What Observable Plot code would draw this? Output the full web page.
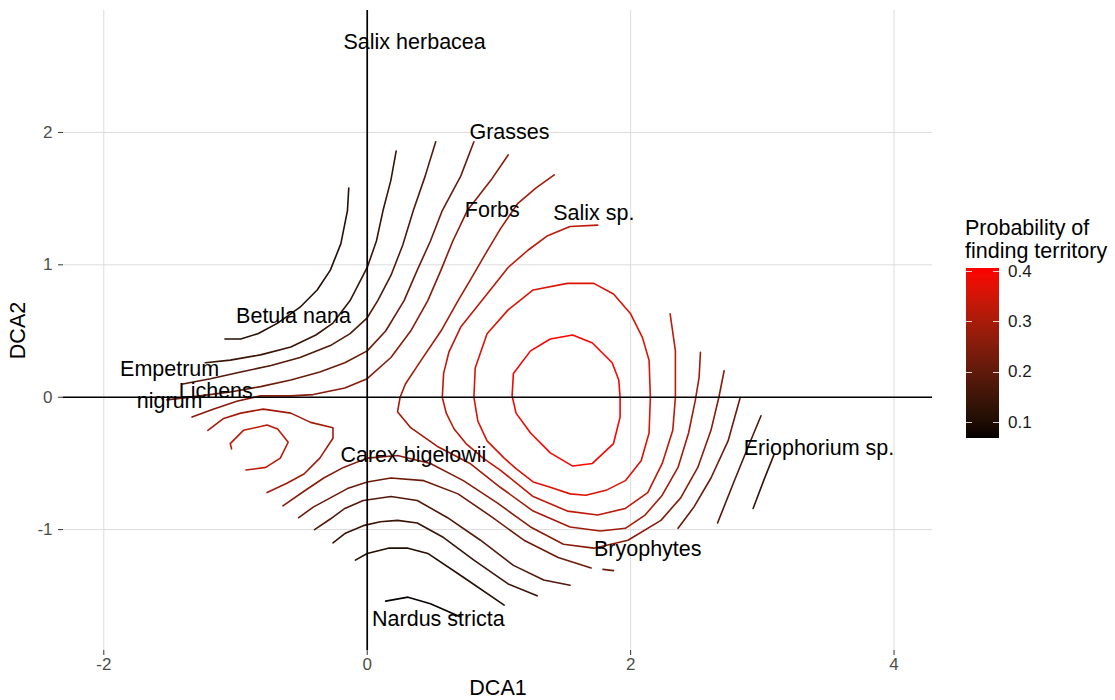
<!DOCTYPE html>
<html>
<head>
<meta charset="utf-8">
<script src="https://cdn.jsdelivr.net/npm/d3@7"></script>
<script src="https://cdn.jsdelivr.net/npm/@observablehq/plot@0.6"></script>
<style>
  body { margin: 0; background: #fff; font-family: "Liberation Sans", Arial, sans-serif; }
  #wrap { position: relative; width: 1115px; height: 700px; }
  .lg-title { position: absolute; left: 965px; top: 217px; font-size: 21.5px; line-height: 23px; color: #000; white-space: nowrap; }
  .lg-bar { position: absolute; left: 966px; top: 268px; width: 33px; height: 170px; }
  .lg-tick { position: absolute; height: 1px; width: 6px; background: #fff; }
  .lg-lab { position: absolute; left: 1008px; font-size: 17px; line-height: 16px; color: #1a1a1a; }
</style>
</head>
<body>
<div id="wrap"></div>
<script>
// Contour levels of the fitted surface (probability of finding territory)
const levels = [0.075, 0.111, 0.147, 0.183, 0.219, 0.256, 0.292, 0.328, 0.364, 0.400];

// Contour pieces, in DCA1/DCA2 units
const nardusArc = [[0.14,-1.54],[0.31,-1.51],[0.48,-1.56],[0.71,-1.66]];
const betulaArc = [[-0.14,1.58],[-0.15,1.41],[-0.20,1.16],[-0.28,0.96],[-0.38,0.81],[-0.51,0.68],[-0.68,0.56],[-0.83,0.48],[-0.96,0.44],[-1.08,0.44]];
const southArc1 = [[-0.09,-1.23],[0.00,-1.18],[0.16,-1.14],[0.31,-1.14],[0.46,-1.18],[0.73,-1.36],[1.04,-1.57]];
const northArc2 = [[0.22,1.86],[0.18,1.64],[0.12,1.41],[0.07,1.18],[0.00,0.98],[-0.13,0.73],[-0.26,0.56],[-0.39,0.47],[-0.58,0.38],[-0.81,0.32],[-1.04,0.28],[-1.23,0.26]];
const southArc2 = [[-0.26,-1.10],[-0.17,-1.03],[-0.03,-0.97],[0.10,-0.94],[0.23,-0.93],[0.38,-0.95],[0.58,-1.06],[0.81,-1.23],[1.07,-1.41],[1.29,-1.50]];
const eastArc2 = [[3.09,-0.43],[3.01,-0.63],[2.93,-0.84]];
const northArc3 = [[0.52,1.93],[0.44,1.67],[0.35,1.41],[0.27,1.15],[0.18,0.92],[0.08,0.73],[0.00,0.60],[-0.13,0.48],[-0.28,0.39],[-0.51,0.30],[-0.73,0.24],[-0.96,0.19],[-1.19,0.14],[-1.40,0.10]];
const southArc3 = [[-0.40,-1.00],[-0.28,-0.92],[-0.17,-0.84],[-0.03,-0.78],[0.18,-0.75],[0.38,-0.78],[0.61,-0.91],[0.86,-1.08],[1.11,-1.27],[1.34,-1.38],[1.54,-1.42]];
const eastArc3 = [[2.99,-0.14],[2.89,-0.38],[2.78,-0.65],[2.66,-0.95]];
const northArc4 = [[0.81,1.93],[0.71,1.67],[0.57,1.41],[0.48,1.18],[0.38,0.96],[0.28,0.73],[0.14,0.50],[0.00,0.35],[-0.17,0.26],[-0.36,0.19],[-0.58,0.13],[-0.81,0.08],[-1.04,0.04],[-1.27,0.01],[-1.52,-0.02]];
const southArc4 = [[-0.52,-0.91],[-0.41,-0.83],[-0.28,-0.76],[-0.15,-0.69],[0.00,-0.64],[0.18,-0.61],[0.43,-0.63],[0.69,-0.73],[0.94,-0.90],[1.19,-1.08],[1.45,-1.21],[1.70,-1.29]];
const southDash4 = [[1.79,-1.30],[1.87,-1.31]];
const eastArc4 = [[2.83,-0.01],[2.74,-0.33],[2.61,-0.61],[2.48,-0.83],[2.36,-0.99]];
const northArc5 = [[1.07,1.83],[0.94,1.64],[0.76,1.41],[0.65,1.18],[0.56,0.96],[0.46,0.73],[0.33,0.50],[0.18,0.30],[0.00,0.14],[-0.17,0.07],[-0.41,0.02],[-0.58,0.01],[-0.81,0.01],[-0.99,-0.03],[-1.17,-0.09],[-1.33,-0.15]];
const southArc5 = [[-0.64,-0.82],[-0.48,-0.71],[-0.33,-0.61],[-0.18,-0.53],[0.00,-0.46],[0.23,-0.44],[0.48,-0.50],[0.73,-0.63],[0.99,-0.80],[1.24,-0.98],[1.49,-1.11],[1.72,-1.14],[1.98,-1.08],[2.23,-0.93],[2.38,-0.76],[2.51,-0.53],[2.61,-0.25],[2.67,0.00],[2.71,0.20]];
const bendArc6 = [[1.42,1.68],[1.28,1.58],[1.14,1.46],[1.01,1.27],[0.89,1.07],[0.78,0.88],[0.69,0.73],[0.56,0.50],[0.41,0.28],[0.29,0.10],[0.25,0.00],[0.23,-0.11],[0.33,-0.23],[0.53,-0.37],[0.78,-0.50],[1.01,-0.68],[1.26,-0.86],[1.54,-0.98],[1.77,-1.01],[1.96,-0.99],[2.11,-0.89],[2.24,-0.74],[2.36,-0.53],[2.44,-0.27],[2.49,-0.03],[2.52,0.15],[2.53,0.34]];
const pocketOuter6 = [[-1.21,-0.25],[-1.09,-0.16],[-0.96,-0.12],[-0.79,-0.09],[-0.58,-0.12],[-0.43,-0.19],[-0.26,-0.23],[-0.26,-0.31],[-0.36,-0.46],[-0.48,-0.58],[-0.61,-0.65],[-0.76,-0.72]];
const wrapArc7 = [[1.75,1.30],[1.54,1.29],[1.37,1.22],[1.22,1.11],[1.07,0.98],[0.91,0.78],[0.71,0.53],[0.62,0.34],[0.58,0.18],[0.57,0.00],[0.60,-0.12],[0.66,-0.24],[0.75,-0.35],[0.88,-0.46],[1.01,-0.55],[1.26,-0.75],[1.52,-0.86],[1.75,-0.89],[1.96,-0.84],[2.13,-0.72],[2.24,-0.50],[2.32,-0.25],[2.34,0.00],[2.34,0.35],[2.30,0.63]];
const pocketInner7 = [[-1.03,-0.39],[-1.04,-0.35],[-0.94,-0.25],[-0.76,-0.21],[-0.68,-0.24],[-0.60,-0.34],[-0.66,-0.46],[-0.77,-0.53],[-0.92,-0.55]];
const ring8 = [[0.81,0.00],[0.82,0.22],[0.91,0.48],[1.07,0.66],[1.26,0.81],[1.52,0.86],[1.72,0.86],[1.87,0.78],[2.00,0.63],[2.09,0.45],[2.14,0.28],[2.15,0.00],[2.14,-0.27],[2.08,-0.48],[1.96,-0.63],[1.82,-0.70],[1.66,-0.74],[1.54,-0.73],[1.39,-0.68],[1.26,-0.64],[1.13,-0.54],[1.04,-0.46],[0.91,-0.33],[0.84,-0.18],[0.81,0.00]];
const ring9 = [[1.10,0.01],[1.11,0.18],[1.24,0.35],[1.39,0.44],[1.56,0.47],[1.71,0.41],[1.86,0.26],[1.91,0.13],[1.92,0.00],[1.92,-0.15],[1.87,-0.35],[1.71,-0.50],[1.56,-0.52],[1.39,-0.42],[1.24,-0.27],[1.13,-0.12],[1.10,0.01]];

// Which level each piece belongs to (index into levels)
const contourPieces = [
  [0, nardusArc], [1, betulaArc], [1, southArc1],
  [2, northArc2], [2, southArc2], [2, eastArc2],
  [3, northArc3], [3, southArc3], [3, eastArc3],
  [4, northArc4], [4, southArc4], [4, southDash4], [4, eastArc4],
  [5, northArc5], [5, southArc5],
  [6, bendArc6], [6, pocketOuter6],
  [7, wrapArc7], [7, pocketInner7],
  [8, ring8], [9, ring9]
];

// Species scores shown as labels
const speciesNames = ["Salix herbacea", "Grasses", "Forbs", "Salix sp.", "Betula nana", "Empetrum\nnigrum", "Lichens", "Carex bigelowii", "Eriophorium sp.", "Bryophytes", "Nardus stricta"];
const speciesX = [0.36, 1.08, 0.95, 1.72, -0.56, -1.50, -1.15, 0.35, 3.43, 2.13, 0.54];
const speciesY = [2.68, 2.00, 1.41, 1.39, 0.61, 0.09, 0.04, -0.44, -0.39, -1.15, -1.68];

// Axis ticks and colour legend ticks
const xTicks = [-2, 0, 2, 4];
const yTicks = [-1, 0, 1, 2];
const legendTicks = [0.1, 0.2, 0.3, 0.4];
const colorDomain = [0.07, 0.407];

// Long table of contour vertices for Plot.line
const contourRows = contourPieces.flatMap(([li, pts], k) =>
  pts.map(([x, y]) => ({id: k, level: levels[li], x, y}))
);

const font = "'Liberation Sans', Arial, sans-serif";

const chart = Plot.plot({
  width: 1115,
  height: 700,
  marginLeft: 63,
  marginRight: 183,
  marginTop: 10,
  marginBottom: 50,
  style: {fontFamily: font, background: "white", overflow: "visible"},
  x: {domain: [-2.306, 4.292]},
  y: {domain: [-1.913, 2.921]},
  color: {type: "linear", domain: colorDomain, range: ["black", "red"], interpolate: "lab"},
  marks: [
    Plot.gridX(xTicks, {stroke: "#dcdcdc", strokeOpacity: 1, strokeWidth: 1}),
    Plot.gridY(yTicks, {stroke: "#dcdcdc", strokeOpacity: 1, strokeWidth: 1}),
    Plot.axisX(xTicks, {tickSize: 5, tickPadding: 2, fontSize: 17, tickFormat: d => String(d), label: null, fill: "#4d4d4d", stroke: "#333"}),
    Plot.axisY(yTicks, {tickSize: 5, tickPadding: 6, fontSize: 17, tickFormat: d => String(d), label: null, fill: "#4d4d4d", stroke: "#333"}),
    Plot.line(contourRows, {x: "x", y: "y", z: "id", stroke: "level", strokeWidth: 1.6, strokeLinejoin: "round"}),
    Plot.ruleX([0], {stroke: "black", strokeWidth: 1.7}),
    Plot.ruleY([0], {stroke: "black", strokeWidth: 1.7}),
    Plot.text(speciesNames, {
      x: (d, i) => speciesX[i],
      y: (d, i) => speciesY[i],
      text: d => d,
      fontSize: 21.5,
      lineHeight: 1.5,
      dy: -4,
      fill: "black"
    }),
    Plot.text(["DCA1"], {frameAnchor: "bottom", lineAnchor: "middle", dy: 38, fontSize: 21.5, fill: "black"}),
    Plot.text(["DCA2"], {frameAnchor: "left", textAnchor: "middle", lineAnchor: "middle", dx: -45, rotate: -90, fontSize: 21.5, fill: "black"})
  ]
});

const wrap = document.getElementById("wrap");
wrap.appendChild(chart);

// Vertical colour bar legend
const colorScale = chart.scale("color");
const barTop = 268, barH = 170;
const yLegend = d3.scaleLinear().domain(colorDomain).range([barTop + barH, barTop]);

const title = document.createElement("div");
title.className = "lg-title";
title.innerHTML = "Probability of<br>finding territory";
wrap.appendChild(title);

const bar = document.createElement("div");
bar.className = "lg-bar";
const stops = d3.range(0, 1.0001, 0.05).map(t => {
  const v = colorDomain[0] + t * (colorDomain[1] - colorDomain[0]);
  return `${colorScale.apply(v)} ${(t * 100).toFixed(1)}%`;
});
bar.style.background = `linear-gradient(to top, ${stops.join(", ")})`;
wrap.appendChild(bar);

for (const v of legendTicks) {
  const y = yLegend(v);
  for (const left of [966, 993]) {
    const t = document.createElement("div");
    t.className = "lg-tick";
    t.style.left = left + "px";
    t.style.top = (y - 0.5) + "px";
    t.style.opacity = 0.8;
    wrap.appendChild(t);
  }
  const lab = document.createElement("div");
  lab.className = "lg-lab";
  lab.style.top = (y - 8) + "px";
  lab.textContent = String(v);
  wrap.appendChild(lab);
}
</script>
</body>
</html>
